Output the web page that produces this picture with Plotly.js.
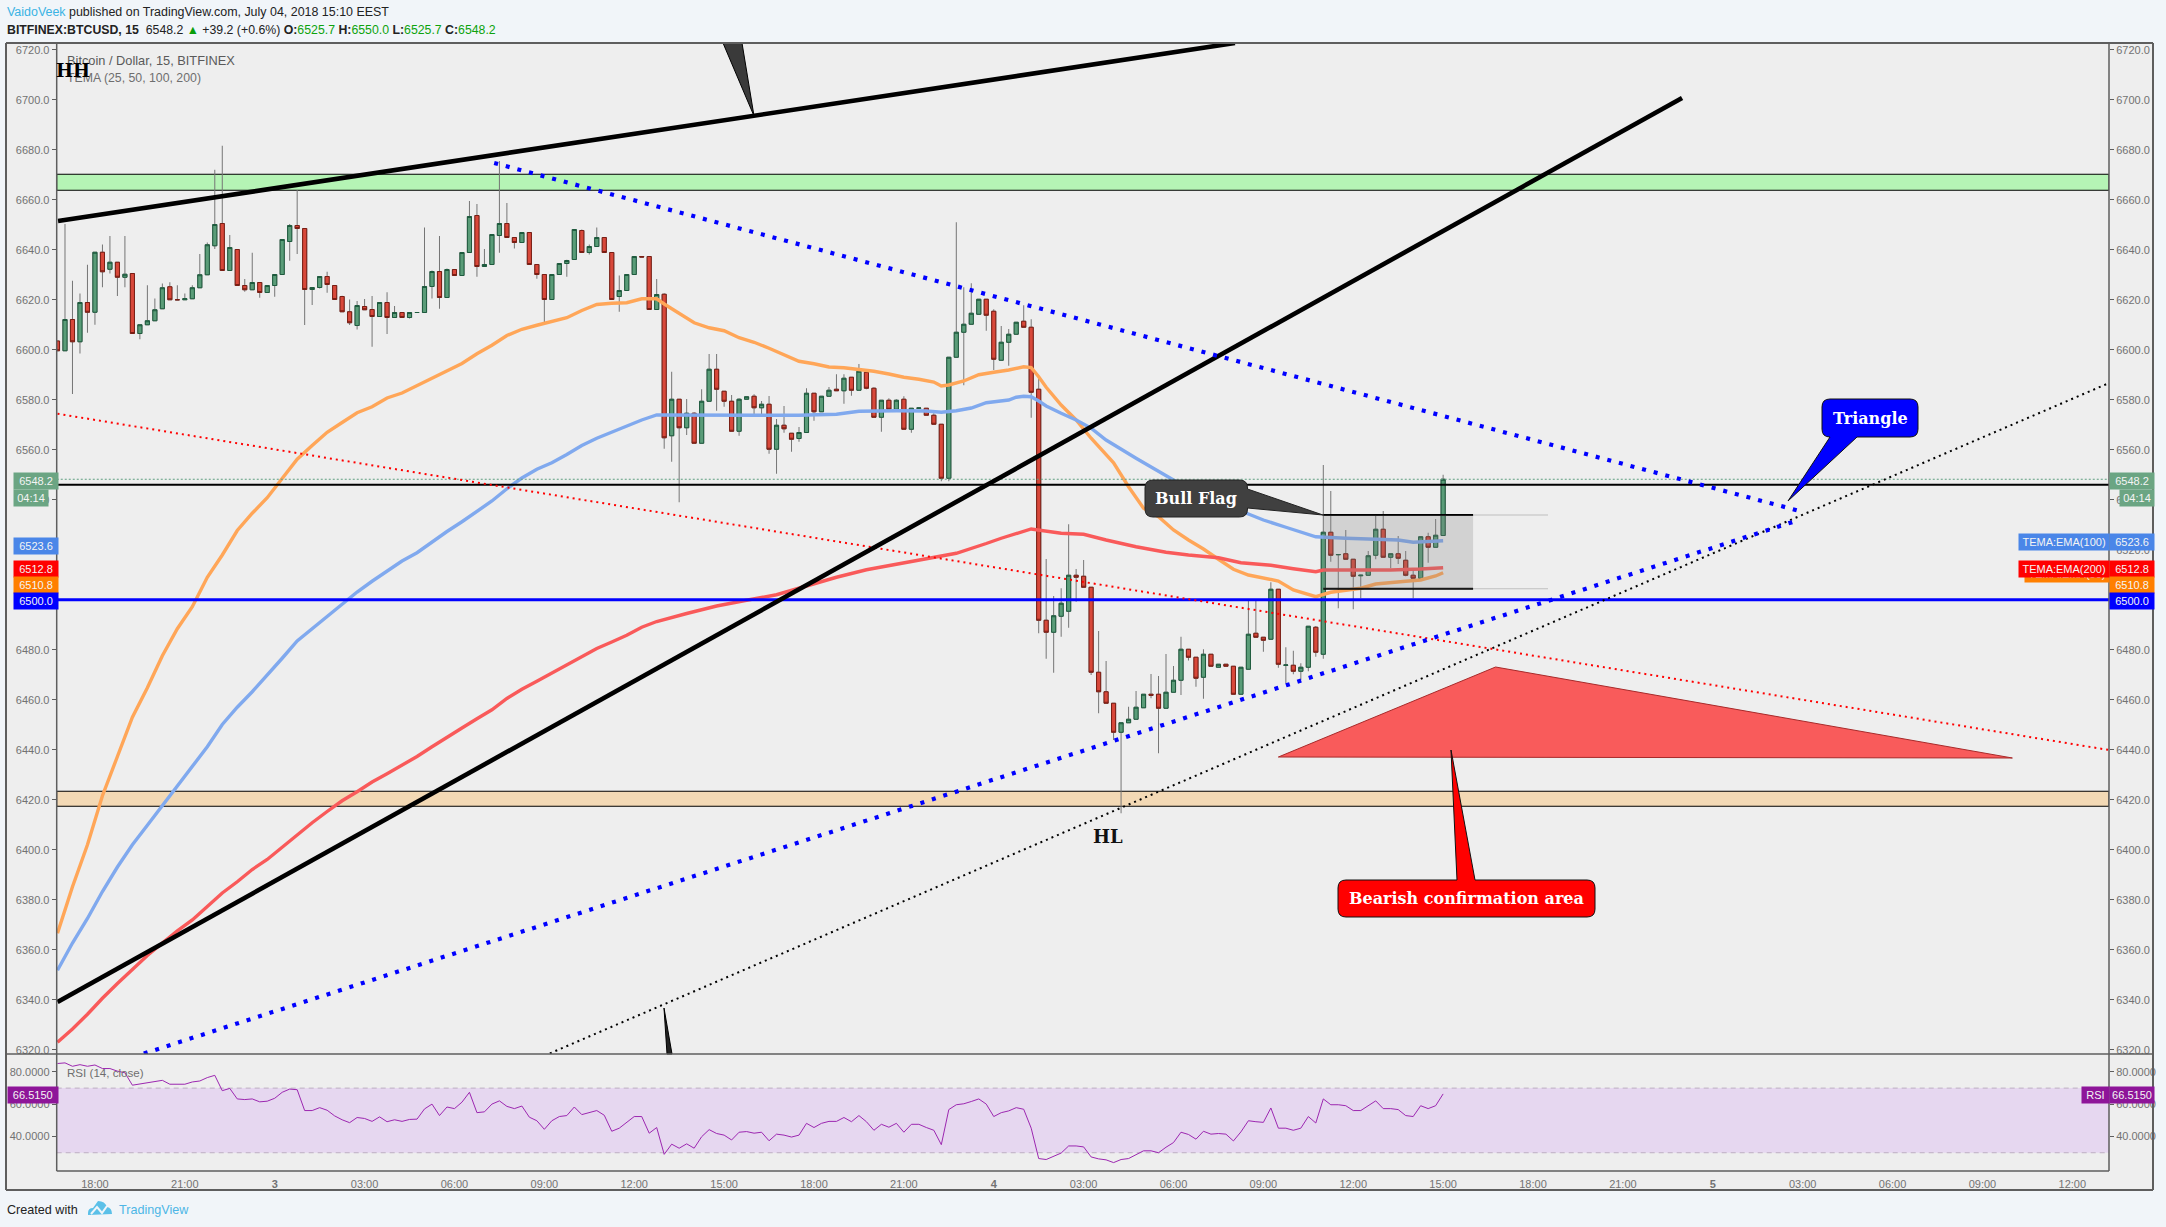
<!DOCTYPE html>
<html><head><meta charset="utf-8">
<script src="https://cdn.plot.ly/plotly-3.0.1.min.js"></script>
<style>html,body{margin:0;padding:0;background:#F1F5F9}#c{width:2166px;height:1227px}</style>
</head><body><div id="c"></div>
<script>
const opens=[6603.5,6599.6,6612.1,6603.2,6618.9,6615,6639,6632.2,6635,6629,6630.5,6606.5,6610,6611.6,6616.4,6625.2,6620,6620,6620.4,6624.8,6630,6641.6,6650.5,6631.7,6640.1,6625.7,6624,6626.9,6622.9,6625.7,6630.1,6643.3,6649.7,6648.5,6624.1,6624.9,6629.3,6625.7,6621.3,6615.2,6609.7,6617.3,6616.1,6613.3,6618.9,6612.9,6614.9,6612.9,6614.9,6614.9,6625.3,6631.3,6620.9,6632.1,6629.7,6638.9,6653.7,6633.3,6634.1,6645.7,6650.5,6644.9,6642.9,6646.9,6634.1,6630.1,6620.1,6630.1,6634.5,6636.1,6647.7,6638.9,6641.3,6644.9,6638.9,6621.3,6623.7,6630.1,6637.3,6637.3,6616.1,6622.2,
6565.6,6580.2,6568.8,6574.6,6562.6,6579.4,6592.2,6583.4,6579.4,6567.4,6580.2,6581.4,6576.8,6578.2,6560.2,6569.8,6566.6,6564.5,6566.9,6582.6,6575.2,6581.4,6584.2,6583.6,6589,6583.8,6591,6584.6,6573,6579.8,6576.2,6580.2,6568.2,6576.6,6576.6,6573.8,6570.2,6548.6,6597,6607,6610.2,6614.2,6620.2,6615.4,6595.8,6603,6606.2,6611.4,6609,6584.2,
6491.8,6487,6493.4,6495.4,6509.8,6509.4,6505,6471,6463.2,6458.6,6447,6450.8,6452.2,6456.8,6462.2,6462.2,6456.6,6463,6467.8,6480.2,6477,6469,6478.2,6473,6474.2,6473.4,6462.2,6472.2,6486.6,6485,6484.2,6504.2,6473.8,6473.8,6471.4,6473,6489,6478.2,6527,6518,6518.4,6516.2,6509.6,6509.8,6517.8,6528.2,6517,6518.4,6515.8,6509.8,6508.6,6525.2,6521,6525.7];
const highs=[6603.5,6650.3,6627.6,6622.5,6634,6639,6642.1,6645.5,6635,6645.5,6630.5,6610,6625.8,6620.5,6626.5,6627,6625.8,6622.5,6625.8,6638.3,6642.9,6672,6681.6,6645.9,6640.1,6628.3,6638.8,6626.9,6625.7,6630.1,6644.1,6650.3,6663.9,6648.5,6624.9,6629.3,6631.2,6625.7,6621.6,6620.1,6619.5,6620.3,6621.5,6618.9,6623,6617.5,6614.9,6614.9,6614.9,6648.9,6631.7,6645.5,6632.5,6632.1,6638.9,6659.5,6658.3,6640.3,6646.1,6675.5,6658.7,6644.9,6646.9,6646.9,6634.1,6630.1,6630.1,6634.5,6636,6648.1,6648.1,6642.1,6648.9,6644.9,6638.9,6629.7,6630.1,6637.3,6637.3,6637.3,6628.3,6622.6,
6591.2,6580.2,6580.3,6575,6584.2,6598.3,6598.3,6583.4,6581.9,6580.6,6581.2,6582.2,6579.5,6581.5,6572.3,6577.5,6566.6,6569.1,6584.6,6582.6,6581.4,6585.1,6590.2,6590.2,6589,6594.3,6591.4,6585,6579.8,6580.6,6580.2,6581.4,6576.6,6577,6576.6,6574.6,6570.2,6597,6651,6625,6626.6,6620.2,6620.2,6616.2,6609.5,6608.3,6611,6617.8,6612.2,6588.6,
6516.3,6501.5,6504.6,6530.2,6512.3,6515.9,6505,6487.5,6475.5,6458.6,6450.8,6457.2,6463.5,6462.2,6470.3,6469.5,6478.3,6473.5,6485.2,6480.2,6477,6480.2,6478.2,6474.2,6474.2,6473.4,6473,6499.9,6499.9,6485,6507,6504.2,6481,6479.6,6474.6,6489.4,6489.5,6553.9,6543.5,6518.2,6527.9,6516.2,6510,6519.5,6533.9,6535.5,6518.4,6525.5,6519.5,6511.9,6525.2,6526.8,6532.3,6550];
const lows=[6599.6,6599.6,6582.3,6598.5,6606.8,6610,6625,6630.5,6621.5,6625,6606.5,6604.2,6610,6611.6,6616.4,6620,6620,6620,6620.4,6624.8,6630,6640.3,6631.7,6631.7,6625.7,6623.2,6624,6620.8,6622.9,6621.2,6630.1,6635.6,6638.3,6609.9,6617.9,6624.5,6622.8,6620.1,6615.2,6609.9,6608.1,6616,6601.2,6613.3,6606.3,6612.9,6612.9,6612.5,6614.9,6614.9,6620.5,6616.4,6620.9,6629.7,6629.7,6638.9,6629.2,6633.3,6634.1,6638.8,6644.9,6640.5,6642.9,6634.1,6628.4,6609.9,6620.1,6630.1,6629.2,6636.1,6638.9,6638.1,6641.3,6638.9,6620.1,6615.2,6623.7,6630.1,6637.3,6616.1,6616.1,6560.4,
6555.2,6539,6565.9,6562.6,6562.6,6579.4,6575.6,6577.2,6567.4,6565.6,6580.2,6573.6,6573.6,6558.4,6550.4,6566.8,6559.2,6563.2,6566.9,6571.6,6575.2,6581.4,6583.6,6578.4,6581.6,6583.8,6584.2,6573,6567.2,6575.2,6576.2,6568.2,6566.8,6576.4,6573.8,6570.2,6547.4,6547.4,6597,6585.8,6610.2,6614.2,6607.6,6591.9,6595.8,6593.6,6606.2,6609,6572.8,6486.6,
6476.4,6470.8,6485.2,6488.8,6499.2,6505,6469.9,6454.6,6458.6,6443.9,6414.6,6450.8,6452.2,6456.8,6460.6,6438.6,6456.6,6463,6461.9,6475.7,6465.2,6460.4,6473.4,6473,6473.4,6462.2,6462.2,6472.2,6485,6479.2,6484.2,6472.8,6466.6,6470.2,6467.9,6471.4,6477.2,6476.4,6515.2,6496.6,6516.2,6496.2,6500.6,6509.8,6516.2,6517,6512.6,6514.3,6509.4,6500.6,6508.6,6514.8,6521,6525.7];
const closes=[6599.6,6612.1,6603.2,6618.9,6615,6639,6631.2,6635,6629,6630.2,6606.5,6610,6611.6,6616,6624.8,6620,6620,6620.4,6624.8,6630,6642,6650.1,6631.7,6640.9,6625.7,6624,6626.9,6622.9,6625.7,6630.1,6644.1,6649.7,6648.5,6624.1,6624.9,6629.3,6626.1,6620.1,6615.2,6610.8,6617.7,6616,6613.3,6618.9,6612.9,6614.9,6612.9,6614.9,6614.9,6625.3,6631.3,6620.9,6632.1,6629.7,6638.9,6653.3,6633.3,6634.1,6646.1,6650.5,6644.9,6642.9,6646.9,6634.1,6630.1,6620.1,6630.1,6634.5,6635.7,6648.1,6638.9,6641.3,6644.9,6638.9,6620.1,6623.7,6630.1,6637.3,6637.1,6616.1,6622.1,6564.8,
6580.2,6568.8,6574.6,6562.6,6579.4,6592.2,6584.2,6579.4,6567.4,6580.2,6581.2,6576.8,6578.2,6560.2,6569.8,6568.4,6564.2,6566.9,6582.6,6575.2,6581.4,6583.8,6583.6,6588.6,6583.8,6591.4,6584.6,6573,6579.8,6576.2,6579.8,6568.2,6576.6,6576.7,6573.8,6570.2,6548.6,6597,6607,6610.2,6614.6,6620.2,6613.8,6596.2,6603,6606.2,6611,6609,6583,6491.8,
6487,6493.6,6498.6,6509.8,6509,6505,6471,6463.2,6458.6,6447,6450.8,6452.2,6457,6462.2,6461.8,6456.6,6463,6467.8,6480.2,6477,6468.6,6478.2,6473.4,6474.2,6473.4,6462.2,6473,6486.2,6485,6483.8,6504.2,6474.2,6473.9,6471.4,6473,6489.4,6479,6527,6517.8,6518.1,6516.2,6509.4,6509.8,6517.6,6528.2,6517,6518.4,6516.6,6509.8,6508.6,6525.2,6521,6525.8,6548.2];
const rsi=[85.2,85.6,83.5,84.5,83.5,84.3,82.1,82.1,80.5,79.5,71.8,72.6,73,73.8,74.8,72.4,72.2,72.4,73.8,74.4,76.5,77.9,68.4,69.8,63.3,62.9,63.3,61.5,61.9,63.7,67.4,69.4,69,56.1,56.1,57.9,56.3,52.8,50.4,48.6,51.8,51.2,49.4,52.2,49.2,50.4,49.4,50.6,50.8,57.1,60.1,53,58.3,57.3,61.3,67.4,54.8,55.3,60.1,62.1,58.7,57.3,58.9,52,49.8,44.5,49.8,52.4,53,58.3,53.6,54.8,56.1,53.2,43.3,45.2,48.8,52.4,52.4,42.1,45.6,29,35.3,32.8,35.5,32.8,39.9,44.3,41.9,40.9,37.9,42.7,43.1,42.1,
42.7,37.4,41.5,40.9,39.7,40.9,48.2,45.6,48.2,49.4,49.4,51.8,49.2,53,49.2,43.9,47.6,45.8,48.2,42.7,47.6,47.6,45.6,43.9,35,56.7,59.7,60.3,61.7,63.3,60.1,52.4,54.8,55.9,57.9,56.9,45.2,26.4,25.8,28,29.8,34.2,34.2,33.6,27.4,26.2,25.6,23.9,25.8,26.4,29,31.2,31.2,30,33.4,36.3,42.7,41.3,38.4,43.3,41.5,41.9,41.5,37.3,42.9,49.8,49.2,48.8,57.7,45.2,45.2,43.9,45.2,52.4,48.4,63.3,59.7,59.7,59.1,56.1,56.1,59.3,62.1,57.3,57.3,56.7,53,52.4,59.1,57.3,59.1,66.4];

const emaEvenIdx=[0,2,4,6,8,10,12,14,16,18,20,22,24,26,28,30,32,34,36,38,40,42,44,46,48,50,52,54,56,58,60,62,64,66,68,70,72,74,76,78,80];
const ema50Idx=emaEvenIdx.concat([81,83,85,87,89,91,93,95,97,99,101,103,105,107,109,111,113,115,117,118,119,121,123,125,127,129,130,131,132,134,136,138,139,141,143,145,147,149,151,153,155,157,159,161,163,165,167,168,170,172,174,176,178,180,182,184,185]);
const ema50=[6366.6,6385.2,6402,6421.6,6437.3,6453,6464.8,6477.6,6488.4,6497.2,6509,6517.9,6527.7,6534.6,6540.8,6548.7,6556.2,6561.7,6567,6570.9,6574.8,6577.2,6580.7,6582.7,6585.6,6588.6,6591.3,6594.5,6598.4,6601.8,6605.7,6608.2,6609.8,6611.2,6612.8,6615.7,6618.1,6618.6,6618.8,6620.4,6620.4,
6618.3,6614.6,6610.8,6608.8,6607.6,6604.8,6603,6600.6,6597.9,6595.4,6594.4,6593.1,6592.8,6592.2,6591.4,6590.3,6589,6588.2,6587.1,6585.5,6585.9,6587.5,6590,6591,6591.9,6593.2,6592.9,6589.2,6585,6577.9,6571.9,6564.6,6561.2,6554.8,6545.2,6536.6,6533.2,6527.9,6523.9,6520.3,6516.2,6512.2,6509.9,6508.6,6507.5,6503.9,6502.3,6501.2,6503,6503.9,6504.6,6506.3,6507,6507.4,6507.9,6509.5,6510.8];
const ema100Idx=emaEvenIdx.concat([81,86,91,95,99,104,107,112,116,118,120,122,124,127,128,129,130,131,132,134,136,138,140,144,147,149,152,155,159,161,164,166,168,172,176,179,181,183,185]);
const ema100=[6351.8,6362.7,6372.5,6383.3,6393.1,6402,6409.8,6417.7,6425.5,6433.4,6441.2,6450.1,6457,6463.2,6469.7,6476.6,6483.5,6488.4,6493.3,6498.2,6503.1,6507.4,6511.6,6515.5,6518.8,6523.2,6527.3,6531.2,6535.5,6539.5,6544.4,6548.7,6552.2,6554.8,6558.1,6561.7,6564.6,6567,6569.3,6571.9,6573.9,
6573.9,6574,6574,6574,6573.8,6574.2,6575.4,6575.6,6575.5,6575,6575.6,6576.7,6578.8,6579.9,6581,6581.4,6581.2,6579.5,6577.5,6574.6,6571.9,6568.6,6563.9,6556.6,6551.2,6547.9,6543.2,6539.2,6534.3,6531.9,6529,6527.2,6525.2,6524.6,6524.2,6523.9,6523,6523.2,6523.6];
const ema200Idx=emaEvenIdx.concat([84,88,92,96,100,104,108,112,116,120,124,126,130,132,134,137,140,144,148,151,155,158,162,165,168,169,178,182,185]);
const ema200=[6323,6328.3,6334.2,6340.6,6346.5,6352.2,6357.7,6362.7,6367.6,6371.9,6377.4,6382.7,6387.2,6392.1,6396.1,6401,6406.3,6410.8,6415.3,6419.6,6423.2,6427.1,6430.4,6433.8,6437.3,6441.2,6444.8,6448.7,6452.4,6456,6460.5,6464.2,6467.4,6470.7,6473.7,6477,6480.5,6483.1,6485.8,6489,6491.3,
6494.5,6497.5,6499.8,6502,6505.5,6509,6512,6514.3,6516.3,6518.6,6522.5,6524.6,6528.3,6527.6,6526.6,6526.2,6523.9,6521.2,6519,6517.9,6516.8,6514.8,6513.8,6512.4,6511.2,6511.9,6511.9,6512.3,6512.8];

const upperBlackIdx=[0.07,157.2], upperBlackVal=[6651.5,6722.7];
const riseBlackIdx=[0,216.9], riseBlackVal=[6339.1,6700.7];
const triTopIdx=[58.3,232.6], triTopVal=[6674.7,6535.5];
const triLowIdx=[10,232.6], triLowVal=[6317,6532];
const redDotIdx=[0,273.9], redDotVal=[6574.4,6439.9];
const blackDotIdx=[65,273.6], blackDotVal=[6317.6,6586.3];
const bearTriIdx=[163,192,261,163], bearTriVal=[6437.1,6473.1,6436.7,6437.1];
const resistance=6546, support=6500, lastPrice=6548.2;
const greenZone=[6663.8,6670.2], tanZone=[6417.4,6423.4];
const flagIdx=[169,189,199], flagTop=6533.9, flagBottom=6504.4;

const priceTicks=[6320,6340,6360,6380,6400,6420,6440,6460,6480,6500,6520,6540,6560,6580,6600,6620,6640,6660,6680,6700,6720];
const rsiTicks=[40,60,80];
const timeTickIdx=[5,17,29,41,53,65,77,89,101,113,125,137,149,161,173,185,197,209,221,233,245,257,269];
const timeLabels=['18:00','21:00','<b>3</b>','03:00','06:00','09:00','12:00','15:00','18:00','21:00','<b>4</b>','03:00','06:00','09:00','12:00','15:00','18:00','21:00','<b>5</b>','03:00','06:00','09:00','12:00'];

const T0=Date.UTC(2018,6,2,16,45);
const t=i=>T0+i*900000;
const idx=opens.map((_,i)=>t(i));
const R=(a)=>a.map(t);
const W=2166,H=1227;
const PX=p=>p/W, PY=p=>1-p/H;
const SANS='"Liberation Sans",Arial,sans-serif', SERIF='"DejaVu Serif",serif';
const rng=[t(-0.107),t(273.9)];

const bodyHi=opens.map((o,i)=>Math.max(o,closes[i])), bodyLo=opens.map((o,i)=>Math.min(o,closes[i]));
const line=(x,y,color,width,dash,extra)=>Object.assign({type:'scatter',mode:'lines',x:R(x),y,line:{color,width,dash:dash||'solid'},hoverinfo:'skip',showlegend:false},extra||{});

const traces=[
 line(ema50Idx,ema50,'#FFA658',3.4),
 line(ema100Idx,ema100,'#80A9EE',3.4),
 line(ema200Idx,ema200,'#F95A5A',3.4),
 {type:'candlestick',x:idx,open:opens,high:highs,low:lows,close:closes,whiskerwidth:0,
  increasing:{line:{color:'#757575',width:1},fillcolor:'rgba(0,0,0,0)'},decreasing:{line:{color:'#757575',width:1},fillcolor:'rgba(0,0,0,0)'},hoverinfo:'skip',showlegend:false},
 {type:'candlestick',x:idx,open:opens,high:bodyHi,low:bodyLo,close:closes,whiskerwidth:0,
  increasing:{line:{color:'#1E5B3E',width:1},fillcolor:'#5A9C78'},decreasing:{line:{color:'#7A1E14',width:1},fillcolor:'#D8483A'},hoverinfo:'skip',showlegend:false},
 line([-0.1,273.9],[lastPrice,lastPrice],'#5F9F80',1,'2px,2px'),
 line([-0.1,273.9],[resistance,resistance],'#000000',2.2),
 line([-0.1,273.9],[support,support],'#0000FF',3),
 line(redDotIdx,redDotVal,'#FF0000',2,'2px,4px'),
 line(blackDotIdx,blackDotVal,'#000000',2,'2px,4px'),
 line(upperBlackIdx,upperBlackVal,'#000000',4.6),
 line(riseBlackIdx,riseBlackVal,'#000000',4.6),
 line(triTopIdx,triTopVal,'#0000FF',4.2,'4px,8px'),
 line(triLowIdx,triLowVal,'#0000FF',4.2,'4px,8px'),
 line(bearTriIdx,bearTriVal,'#A82A2A',1,null,{fill:'toself',fillcolor:'#F95B5B'}),
 line([flagIdx[0],flagIdx[1]],[flagTop,flagTop],'#000000',2),
 line([flagIdx[0],flagIdx[1]],[flagBottom,flagBottom],'#000000',2),
 line([flagIdx[1],flagIdx[2]],[flagTop,flagTop],'rgba(120,120,120,0.4)',1),
 line([flagIdx[1],flagIdx[2]],[flagBottom,flagBottom],'rgba(120,120,120,0.4)',1),
 line([-0.1,185],[lastPrice,lastPrice],'rgba(0,0,0,0)',1,null,{yaxis:'y3'}),
 line(opens.map((_,i)=>i),rsi,'#9C27B0',1,null,{yaxis:'y2'}),
 line([-0.1,185],[50,50],'rgba(0,0,0,0)',1,null,{yaxis:'y4'})
];

function callout(x0,y0,x1,y1,r,side,a,tip,b){
 const fx=PX,fy=PY,P=(x,y)=>fx(x)+','+fy(y);
 let s='M'+P(x0+r,y0);
 if(side==='top'){s+=' L'+P(a[0],a[1])+' L'+P(tip[0],tip[1])+' L'+P(b[0],b[1]);}
 s+=' L'+P(x1-r,y0)+' Q'+P(x1,y0)+' '+P(x1,y0+r);
 if(side==='right'){s+=' L'+P(a[0],a[1])+' L'+P(tip[0],tip[1])+' L'+P(b[0],b[1]);}
 s+=' L'+P(x1,y1-r)+' Q'+P(x1,y1)+' '+P(x1-r,y1);
 if(side==='bottom'){s+=' L'+P(b[0],b[1])+' L'+P(tip[0],tip[1])+' L'+P(a[0],a[1]);}
 s+=' L'+P(x0+r,y1)+' Q'+P(x0,y1)+' '+P(x0,y1-r)+' L'+P(x0,y0+r)+' Q'+P(x0,y0)+' '+P(x0+r,y0)+' Z';
 return s;
}
const poly=pts=>'M'+pts.map(p=>PX(p[0])+','+PY(p[1])).join(' L')+' Z';
const ps=(path,fill,lc,lw)=>({type:'path',xref:'paper',yref:'paper',path,fillcolor:fill,line:{color:lc,width:lw},layer:'above'});
const pl=(x0,y0,x1,y1,c,w,layer)=>({type:'line',xref:'paper',yref:'paper',x0:PX(x0),y0:PY(y0),x1:PX(x1),y1:PY(y1),line:{color:c,width:w},layer:layer||'above'});
const zone=(z,fill)=>({type:'rect',xref:'x',yref:'y',x0:rng[0],x1:rng[1],y0:z[0],y1:z[1],fillcolor:fill,line:{color:'#000',width:1},layer:'below'});

const shapes=[
 {type:'rect',xref:'paper',yref:'paper',x0:PX(6),x1:PX(2153),y0:PY(1190),y1:PY(43),fillcolor:'#EEEEEE',line:{width:0},layer:'below'},
 zone(greenZone,'#B5F4B5'),zone(tanZone,'#F3D9B5'),
 {type:'rect',xref:'x',yref:'y2',x0:rng[0],x1:rng[1],y0:30,y1:70,fillcolor:'#E6D7F0',line:{width:0},layer:'below'},
 {type:'line',xref:'x',yref:'y2',x0:rng[0],x1:rng[1],y0:70,y1:70,line:{color:'#BDAFC2',width:1,dash:'5px,4px'},layer:'below'},
 {type:'line',xref:'x',yref:'y2',x0:rng[0],x1:rng[1],y0:30,y1:30,line:{color:'#BDAFC2',width:1,dash:'5px,4px'},layer:'below'},
 {type:'rect',xref:'x',yref:'y',x0:t(flagIdx[0]),x1:t(flagIdx[1]),y0:flagBottom,y1:flagTop,fillcolor:'rgba(128,128,128,0.25)',line:{width:0},layer:'above'},
 ps(poly([[723,43],[742,43],[754,116]]),'#3A3A3A','#000',1),
 ps(poly([[664,1008],[667,1054],[672,1054]]),'#222','#000',1),
 ps(callout(1145,480,1247.5,517,8,'right',[1247.5,489],[1323,515],[1247.5,508]),'#404040','#222',1),
 ps(callout(1822,399,1918,437,8,'bottom',[1830,437],[1788,501],[1857,437]),'#0000FF','#111',1),
 ps(callout(1338,880,1595,917,8,'top',[1457,880],[1451,750],[1475,880]),'#FF0000','#111',1),
 ps('M'+PX(88)+','+PY(1213)+' Q'+PX(88)+','+PY(1208)+' '+PX(93)+','+PY(1208)+' L'+PX(98)+','+PY(1201)+' Q'+PX(105)+','+PY(1201)+' '+PX(107)+','+PY(1207)+' Q'+PX(112)+','+PY(1208)+' '+PX(112)+','+PY(1214)+' L'+PX(88)+','+PY(1215)+' Z','#5BC0E8','#5BC0E8',0),
 {type:'path',xref:'paper',yref:'paper',path:'M'+PX(91)+','+PY(1214)+' L'+PX(97)+','+PY(1207)+' L'+PX(102)+','+PY(1213)+' L'+PX(107)+','+PY(1206),line:{color:'#F1F5F9',width:2},layer:'above'},
 pl(6,43,2153,43,'#5E5E5E',2),pl(6,1190,2153,1190,'#5E5E5E',2),pl(6,43,6,1190,'#5E5E5E',2),pl(2153,43,2153,1190,'#5E5E5E',2),
 pl(56.7,43,56.7,1171,'#5E5E5E',1.5),pl(2109,43,2109,1171,'#5E5E5E',1.5),
 pl(6,1054,2153,1054,'#5E5E5E',1.5),pl(56.7,1171,2109,1171,'#5E5E5E',1.5)
];

const txt=(x,y,text,size,color,family,anchor,extra)=>Object.assign({xref:'paper',yref:'paper',x:PX(x),y:PY(y),text,showarrow:false,xanchor:anchor||'left',yanchor:'middle',font:{size,color,family:family||SANS},borderpad:0},extra||{});
const tag=(x0,y0,x1,y1,text,bg,color)=>({xref:'paper',yref:'paper',x:PX(x0),y:PY(y0),xanchor:'left',yanchor:'top',width:x1-x0,height:y1-y0,text,bgcolor:bg,showarrow:false,align:'center',valign:'middle',font:{size:11,color:color||'#F4F4F4',family:SANS},borderpad:0});
const G='#0DA30D',sg=v=>'<span style="color:'+G+'">'+v+'</span>';

const annotations=[
 txt(6,12,'<span style="color:#3BB3E4">VaidoVeek</span> published on TradingView.com, July 04, 2018 15:10 EEST',12.45,'#222'),
 txt(6,30,'<b>BITFINEX:BTCUSD, 15</b>  6548.2 <span style="color:#0A9E0A">▲</span> +39.2 (+0.6%) <b>O:</b>'+sg('6525.7')+' <b>H:</b>'+sg('6550.0')+' <b>L:</b>'+sg('6525.7')+' <b>C:</b>'+sg('6548.2'),12.3,'#222'),
 txt(66,60.5,'Bitcoin / Dollar, 15, BITFINEX',12.8,'#5A5A5A'),
 txt(66,78,'TEMA (25, 50, 100, 200)',12.3,'#6E6E6E'),
 txt(66,1072,'RSI (14, close)',11.6,'#6E6E6E'),
 txt(73,71,'<b>HH</b>',18,'#000',SERIF,'center'),
 txt(1108,836,'<b>HL</b>',18,'#111',SERIF,'center'),
 txt(1196,498,'<b>Bull Flag</b>',16,'#FFF',SERIF,'center'),
 txt(1870,418,'<b>Triangle</b>',16,'#FFF',SERIF,'center'),
 txt(1466,898,'<b>Bearish confirmation area</b>',16,'#FFF',SERIF,'center'),
 txt(6,1210,'Created with',12.6,'#222'),
 txt(118,1210,'TradingView',12.6,'#4DB6E6'),
 tag(13,472,57,488,'6548.2','#6BA583'), tag(13,489,47,505,'04:14','#6BA583'),
 tag(13,537,57,553,'6523.6','#4A86E8'),
 tag(13,560,57,576,'6512.8','#FF0000'), tag(13,576,57,592,'6510.8','#FF7F00'), tag(13,592,57,608,'6500.0','#0000FF'),
 tag(2109,472,2153,488,'6548.2','#6BA583'), tag(2119,489,2153,505,'04:14','#6BA583'),
 tag(2109,533,2153,549,'6523.6','#4A86E8'), tag(2018,533,2108,549,'TEMA:EMA(100)','#4A86E8'),
 tag(2024,565,2108,581,'TEMA:EMA(50)','#FF7F00'), tag(2018,560,2108,576,'TEMA:EMA(200)','#FF0000'),
 tag(2109,560,2153,576,'6512.8','#FF0000'), tag(2109,576,2153,592,'6510.8','#FF7F00'), tag(2109,592,2153,608,'6500.0','#0000FF'),
 tag(7,1086,56.5,1102,'66.5150','#8E1599'), tag(2081,1086,2108,1102,'RSI','#8E1599'), tag(2109,1086,2153,1102,'66.5150','#8E1599')
];

const xDom=[PX(56.7),PX(2109)];
const mainDom=[PY(1054),PY(43)], rsiDom=[PY(1171),PY(1054)];
const mainRange=[6318.3,6722.7], rsiRange=[18.7,91.1];
const axF={size:11,color:'#727272',family:SANS};
const yBase={showgrid:false,zeroline:false,showline:false,ticks:'outside',ticklen:4,tickcolor:'#5E5E5E',tickfont:axF,fixedrange:true};

const layout={
 width:W,height:H,autosize:false,margin:{l:0,r:0,t:0,b:0,pad:0},
 paper_bgcolor:'#F1F5F9',plot_bgcolor:'#EEEEEE',showlegend:false,hovermode:false,dragmode:false,
 boxgap:0.45,boxgroupgap:0,
 xaxis:{type:'date',domain:xDom,range:rng,anchor:'y2',tickmode:'array',tickvals:timeTickIdx.map(t),ticktext:timeLabels,tickangle:0,showgrid:false,zeroline:false,showline:false,ticks:'outside',ticklen:3,tickcolor:'rgba(0,0,0,0)',tickfont:axF,rangeslider:{visible:false},fixedrange:true},
 yaxis:Object.assign({},yBase,{domain:mainDom,range:mainRange,anchor:'x',tickmode:'array',tickvals:priceTicks,ticktext:priceTicks.map(v=>v.toFixed(1))}),
 yaxis3:Object.assign({},yBase,{overlaying:'y',side:'right',anchor:'x',range:mainRange,tickmode:'array',tickvals:priceTicks,ticktext:priceTicks.map(v=>v.toFixed(1))}),
 yaxis2:Object.assign({},yBase,{domain:rsiDom,range:rsiRange,anchor:'x',tickmode:'array',tickvals:rsiTicks,ticktext:rsiTicks.map(v=>v.toFixed(4))}),
 yaxis4:Object.assign({},yBase,{domain:rsiDom,overlaying:'y2',side:'right',anchor:'x',range:rsiRange,tickmode:'array',tickvals:rsiTicks,ticktext:rsiTicks.map(v=>v.toFixed(4))}),
 shapes,annotations
};
Plotly.newPlot('c',traces,layout,{displayModeBar:false,staticPlot:true});
</script></body></html>
